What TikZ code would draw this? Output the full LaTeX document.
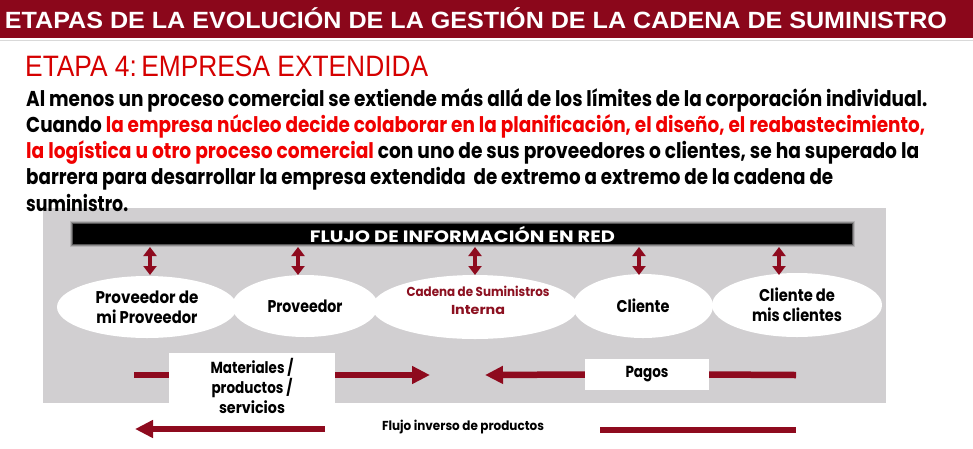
\documentclass[tikz,border=0pt]{standalone}
\usepackage{fontspec}
\setmainfont{Liberation Sans}
\newfontfamily\pop{Poppins}
\usetikzlibrary{shapes.geometric,arrows.meta}
\definecolor{barred}{RGB}{139,7,27}
\definecolor{arrred}{RGB}{142,10,30}
\definecolor{subred}{RGB}{213,0,0}
\definecolor{txtred}{RGB}{240,0,0}
\definecolor{cadred}{RGB}{140,16,32}
\definecolor{panel}{RGB}{209,207,209}
\newcommand{\fitt}[2]{\resizebox{#1}{\height}{#2}}
\begin{document}
\begin{tikzpicture}[x=1pt,y=-1pt,
  para/.style={anchor=base west, inner sep=0, font=\pop\bfseries\fontsize{21.5}{21.5}\selectfont},
  ell/.style={ellipse, fill=white, inner sep=0, align=center, font=\pop\bfseries\fontsize{17}{20}\selectfont},
  whitebox/.style={fill=white, inner sep=0, align=center, font=\pop\bfseries\fontsize{16}{20}\selectfont},
  dbl/.style={arrred, line width=4pt, {Triangle[length=9pt,width=13pt]}-{Triangle[length=9pt,width=13pt]}},
  big/.style={arrred, line width=6.5pt, -{Triangle[length=18pt,width=17pt]}},
  bigline/.style={arrred, line width=6.5pt}]
\useasboundingbox (0,0) rectangle (973,448);
% title bar
\fill[barred] (0,0) rectangle (973,38);
\draw[black!15, line width=1pt] (0,40) -- (973,40);
\node[anchor=base, text=white, inner sep=0, font=\bfseries\fontsize{23.5}{23.5}\selectfont] (title) at (476,28.8)
  {\fitt{942pt}{ETAPAS DE LA EVOLUCIÓN DE LA GESTIÓN DE LA CADENA DE SUMINISTRO}};
\node[anchor=base west, text=subred, inner sep=0, font=\fontsize{29.5}{29.5}\selectfont] (sub) at (25,76.5)
  {\fitt{403pt}{ETAPA 4:\,EMPRESA EXTENDIDA}};
% paragraph
\node[para] (l1) at (26,106) {\fitt{901pt}{Al menos un proceso comercial se extiende más allá de los límites de la corporación individual.}};
\node[para] (l2) at (26,132) {\fitt{899pt}{Cuando \textcolor{txtred}{la empresa núcleo decide colaborar en la planificación, el diseño, el reabastecimiento,}}};
\node[para] (l3) at (26,158) {\fitt{893pt}{\textcolor{txtred}{la logística u otro proceso comercial} con uno de sus proveedores o clientes, se ha superado la}};
\node[para] (l4) at (26,184.5) {\fitt{807pt}{barrera para desarrollar la empresa extendida\ \ de extremo a extremo de la cadena de}};
% panel
\fill[panel] (43,208) rectangle (886,403);
\node[para] (l5) at (26,211) {\fitt{102pt}{suministro.}};
% black bar with soft edge
\foreach \d/\o in {3/0.12,2/0.22,1/0.4}
  \fill[black, opacity=\o] (73-\d,224-\d) rectangle (852+\d,244+\d);
\node[fill=black, minimum width=779pt, minimum height=20pt, inner sep=0, text=white,
      font=\pop\bfseries\fontsize{16.5}{16.5}\selectfont] (bar) at (462.5,234)
  {\fitt{305pt}{FLUJO DE INFORMACIÓN EN RED}};
% ellipses
\node[ell, minimum width=180pt, minimum height=62pt] (e1) at (147,307)
  {\fitt{103pt}{Proveedor de}\\\fitt{101pt}{mi Proveedor}};
\node[ell, minimum width=146pt, minimum height=62pt] (e2) at (305,306)
  {\fitt{75pt}{Proveedor}};
\node[ell, minimum width=206pt, minimum height=64pt] (e3) at (475,307) {};
\node[inner sep=0, align=center, text=cadred, font=\pop\bfseries\fontsize{13}{18}\selectfont] (e3t) at (478,300)
  {\fitt{143pt}{Cadena de Suministros}\\\fitt{54pt}{Interna}};
\node[ell, minimum width=140pt, minimum height=64pt] (e4) at (643,306)
  {\fitt{53pt}{Cliente}};
\node[ell, minimum width=170pt, minimum height=64pt] (e5) at (797,305)
  {\fitt{76pt}{Cliente de}\\\fitt{90pt}{mis clientes}};
% information double arrows
\foreach \n/\x in {1/150,2/298,3/475,4/639,5/779}{
  \coordinate (u\n) at (\x,247);
  \coordinate (d\n) at (\x,275);
  \draw[dbl] (u\n) -- (d\n);
}
% materials flow
\node[whitebox, minimum width=166pt, minimum height=66pt] (mat) at (252,386)
  {\fitt{83pt}{Materiales /}\\\fitt{81pt}{productos /}\\\fitt{66pt}{servicios}};
\coordinate (s1) at (134,375);
\coordinate (t1) at (430,375);
\draw[bigline] (s1) -- (mat.west |- s1);
\draw[big] (mat.east |- s1) -- (t1);
% payments
\node[whitebox, minimum width=124pt, minimum height=31pt] (pagos) at (647,374.5) {\fitt{43pt}{Pagos}};
\coordinate (t2) at (485,375);
\coordinate (s2) at (796,375);
\draw[big] (pagos.west) -- (t2);
\draw[bigline] (pagos.east) -- (s2);
% reverse flow
\node[inner sep=0, font=\pop\bfseries\fontsize{13}{13}\selectfont] (flujo) at (463,427)
  {\fitt{162pt}{Flujo inverso de productos}};
\coordinate (s3) at (325,429);
\coordinate (t3) at (135,429);
\draw[big] (s3) -- (t3);
\coordinate (s4) at (600,430);
\coordinate (t4) at (796,430);
\draw[bigline] (s4) -- (t4);
\end{tikzpicture}
\end{document}
